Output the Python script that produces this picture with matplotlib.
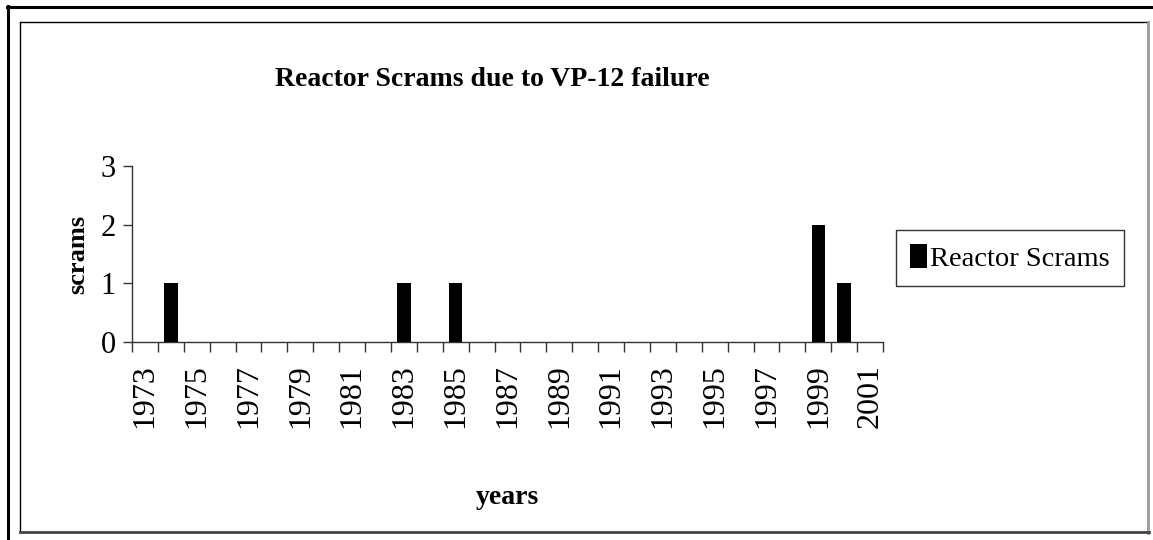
import matplotlib
matplotlib.use('Agg')
import matplotlib.pyplot as plt
from matplotlib.lines import Line2D

# data
years = [1973, 1974, 1975, 1976, 1977, 1978, 1979, 1980, 1981, 1982,
         1983, 1984, 1985, 1986, 1987, 1988, 1989, 1990, 1991, 1992,
         1993, 1994, 1995, 1996, 1997, 1998, 1999, 2000, 2001]
scrams = [0, 1, 0, 0, 0, 0, 0, 0, 0, 0,
          1, 0, 1, 0, 0, 0, 0, 0, 0, 0,
          0, 0, 0, 0, 0, 0, 2, 1, 0]
y_ticks = [0, 1, 2, 3]

plt.rcParams['font.family'] = ['Liberation Serif', 'DejaVu Serif']

W, H = 1153, 540
fig = plt.figure(figsize=(W / 100, H / 100), dpi=100)
fig.patch.set_facecolor('white')

# plot area
ax = fig.add_axes([132 / W, 1 - 342 / H, (883 - 132) / W, (342 - 166) / H])
pos = list(range(len(years)))
ax.bar(pos, scrams, width=0.52, color='black', label='Reactor Scrams', zorder=3)

ax.set_xlim(-0.5, len(years) - 0.5)
ax.set_ylim(0, 3)
ax.set_yticks(y_ticks)
ax.set_yticklabels([str(v) for v in y_ticks], fontsize=22)

# tick marks between categories, labels on every second category
ax.set_xticks([p - 0.5 for p in pos] + [len(years) - 0.5])
ax.set_xticklabels([])
ax.set_xticks(pos[::2], minor=True)
ax.set_xticklabels([str(y) for y in years[::2]], minor=True, rotation=90, fontsize=23)
ax.tick_params(axis='x', which='major', direction='out', length=7.5, width=1, color='#333333')
ax.tick_params(axis='x', which='minor', length=0, pad=16)
ax.tick_params(axis='y', direction='out', length=6.5, width=1, color='#333333', pad=5)

for s in ['top', 'right']:
    ax.spines[s].set_visible(False)
for s in ['left', 'bottom']:
    ax.spines[s].set_color('#333333')
    ax.spines[s].set_linewidth(1)

ax.set_ylabel('scrams', fontsize=19, fontweight='bold', labelpad=8)
fig.text(507 / W, 1 - 497 / H, 'years', fontsize=20, fontweight='bold', ha='center', va='center')
fig.text(492 / W, 1 - 80 / H, 'Reactor Scrams due to VP-12 failure', fontsize=20, fontweight='bold',
         ha='center', va='center')

leg = ax.legend(loc='center left', bbox_to_anchor=(896 / W, 1 - 258 / H), bbox_transform=fig.transFigure,
                fontsize=20.5, frameon=True, fancybox=False, edgecolor='black', handlelength=0.6,
                handleheight=0.9, handletextpad=0.1, borderpad=0.5, borderaxespad=0)
leg.get_frame().set_linewidth(1)

# chart frames
def hline(x0, x1, y, **kw):
    fig.add_artist(Line2D([x0 / W, x1 / W], [1 - y / H, 1 - y / H], transform=fig.transFigure, **kw))

def vline(x, y0, y1, **kw):
    fig.add_artist(Line2D([x / W, x / W], [1 - y0 / H, 1 - y1 / H], transform=fig.transFigure, **kw))

hline(7, W, 7, color='black', lw=2.2)
vline(8, 6, H, color='black', lw=2.2)
hline(20, 1148, 22, color='black', lw=1)
vline(20, 22, 532, color='black', lw=1)
vline(1148, 22, 533, color='#999999', lw=2)
hline(20, 1149, 532, color='#444444', lw=2)

fig.savefig('out.png', dpi=100)
